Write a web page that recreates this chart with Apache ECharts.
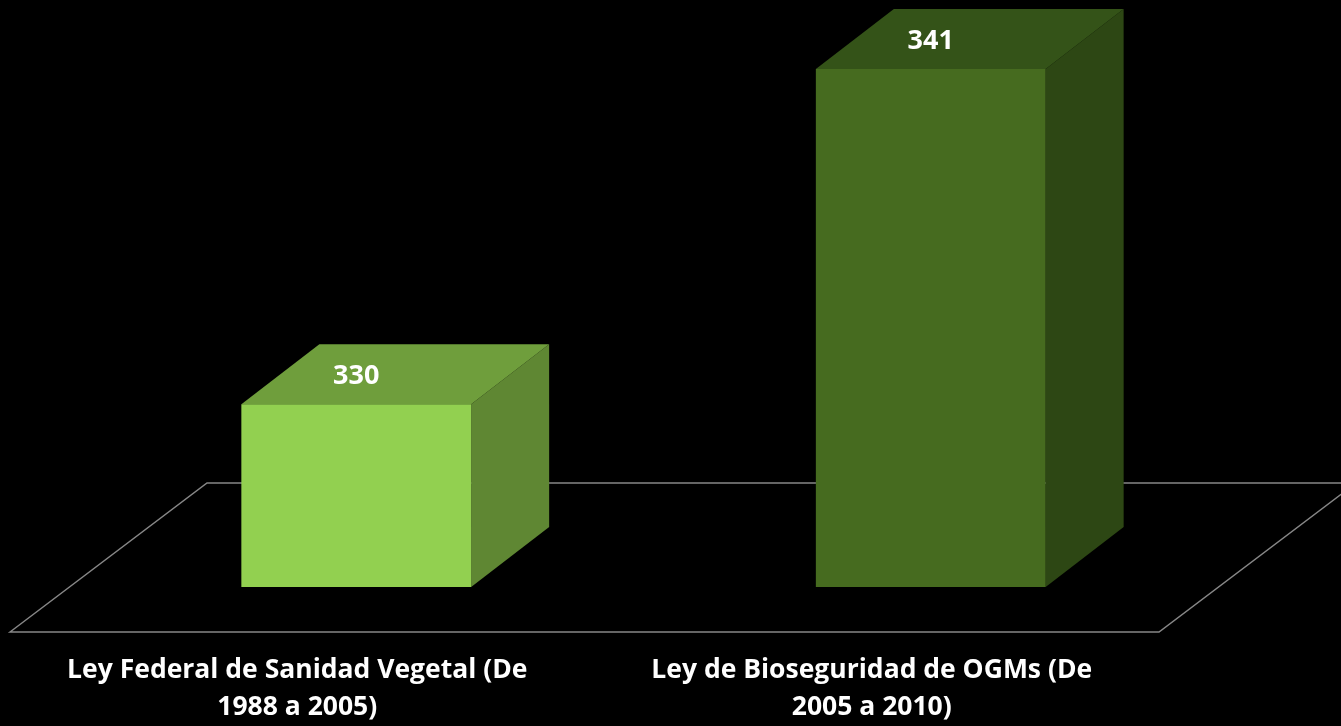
<!DOCTYPE html>
<html>
<head>
<meta charset="utf-8">
<script src="https://cdn.jsdelivr.net/npm/echarts@6/dist/echarts.min.js"></script>
<style>
html,body{margin:0;padding:0;background:#000;}
#chart{width:1341px;height:726px;}
</style>
</head>
<body>
<div id="chart"></div>
<script>
// ---- data ----
const categories = ['Ley Federal de Sanidad Vegetal (De\n1988 a 2005)', 'Ley de Bioseguridad de OGMs (De\n2005 a 2010)'];
const values = [330, 341];
const axisMin = 324;
const axisMax = 342;

// ---- styles ----
const frontColors = ['#92d050', '#466b1f'];
const topColors = ['#6f9e3c', '#345318'];
const sideColors = ['#5f8733', '#2d4714'];
const DX = 78, DY = -60;          // bar depth offset
const FLOOR_FRONT = [-59, 45];    // floor front edge offset from base line
const FLOOR_BACK = [138, -104];   // floor back edge offset from base line
const FONT = '"Open Sans", Lato, "Liberation Sans", sans-serif';

const chart = echarts.init(document.getElementById('chart'));

function renderFloor(params, api) {
  const cs = params.coordSys;
  const baseY = cs.y + cs.height;
  const l = cs.x, r = cs.x + cs.width;
  return {
    type: 'polygon',
    shape: { points: [
      [l + FLOOR_FRONT[0], baseY + FLOOR_FRONT[1]],
      [l + FLOOR_BACK[0], baseY + FLOOR_BACK[1]],
      [r + FLOOR_BACK[0], baseY + FLOOR_BACK[1]],
      [r + FLOOR_FRONT[0], baseY + FLOOR_FRONT[1]]
    ]},
    style: { fill: 'none', stroke: '#878787', lineWidth: 1.5 },
    silent: true
  };
}

function renderBar(params, api) {
  const idx = api.value(0);
  const top = api.coord([idx, api.value(1)]);
  const bot = api.coord([idx, axisMin]);
  const w = api.size([1, 0])[0] * 0.4;
  const x0 = top[0] - w / 2, x1 = top[0] + w / 2;
  const yT = top[1], yB = bot[1];
  const i = params.dataIndex;
  return {
    type: 'group',
    children: [
      { type: 'polygon', shape: { points: [[x1, yT], [x1 + DX, yT + DY], [x1 + DX, yB + DY], [x1, yB]] },
        style: { fill: sideColors[i] } },
      { type: 'polygon', shape: { points: [[x0, yT], [x0 + DX, yT + DY], [x1 + DX, yT + DY], [x1, yT]] },
        style: { fill: topColors[i] } },
      { type: 'rect', shape: { x: x0, y: yT, width: w, height: yB - yT },
        style: { fill: frontColors[i] } },
      { type: 'text', x: top[0], y: yT + DY / 2 + 2,
        style: { text: String(api.value(1)), fill: '#ffffff', font: 'bold 27px ' + FONT,
                 align: 'center', verticalAlign: 'middle' } }
    ]
  };
}

chart.setOption({
  backgroundColor: '#000000',
  animation: false,
  grid: [
    { left: 69, width: 1149, top: 38.5, bottom: 139 },
    { left: 10, width: 1149, top: 631, height: 1 }
  ],
  xAxis: [
    { type: 'category', gridIndex: 0, data: categories,
      axisLine: { show: false }, axisTick: { show: false }, axisLabel: { show: false } },
    { type: 'category', gridIndex: 1, data: categories,
      axisLine: { show: false }, axisTick: { show: false },
      axisLabel: { color: '#ffffff', fontWeight: 'bold', fontSize: 26.5, fontFamily: FONT,
                   lineHeight: 37, margin: 20, interval: 0 } }
  ],
  yAxis: [
    { type: 'value', gridIndex: 0, min: axisMin, max: axisMax, show: false, splitLine: { show: false } },
    { type: 'value', gridIndex: 1, show: false, splitLine: { show: false } }
  ],
  series: [
    { type: 'custom', xAxisIndex: 0, yAxisIndex: 0, data: [[0, axisMin]], renderItem: renderFloor, z: 1 },
    { type: 'custom', xAxisIndex: 0, yAxisIndex: 0,
      data: values.map((v, i) => [i, v]), renderItem: renderBar, z: 2 }
  ]
});
</script>
</body>
</html>
